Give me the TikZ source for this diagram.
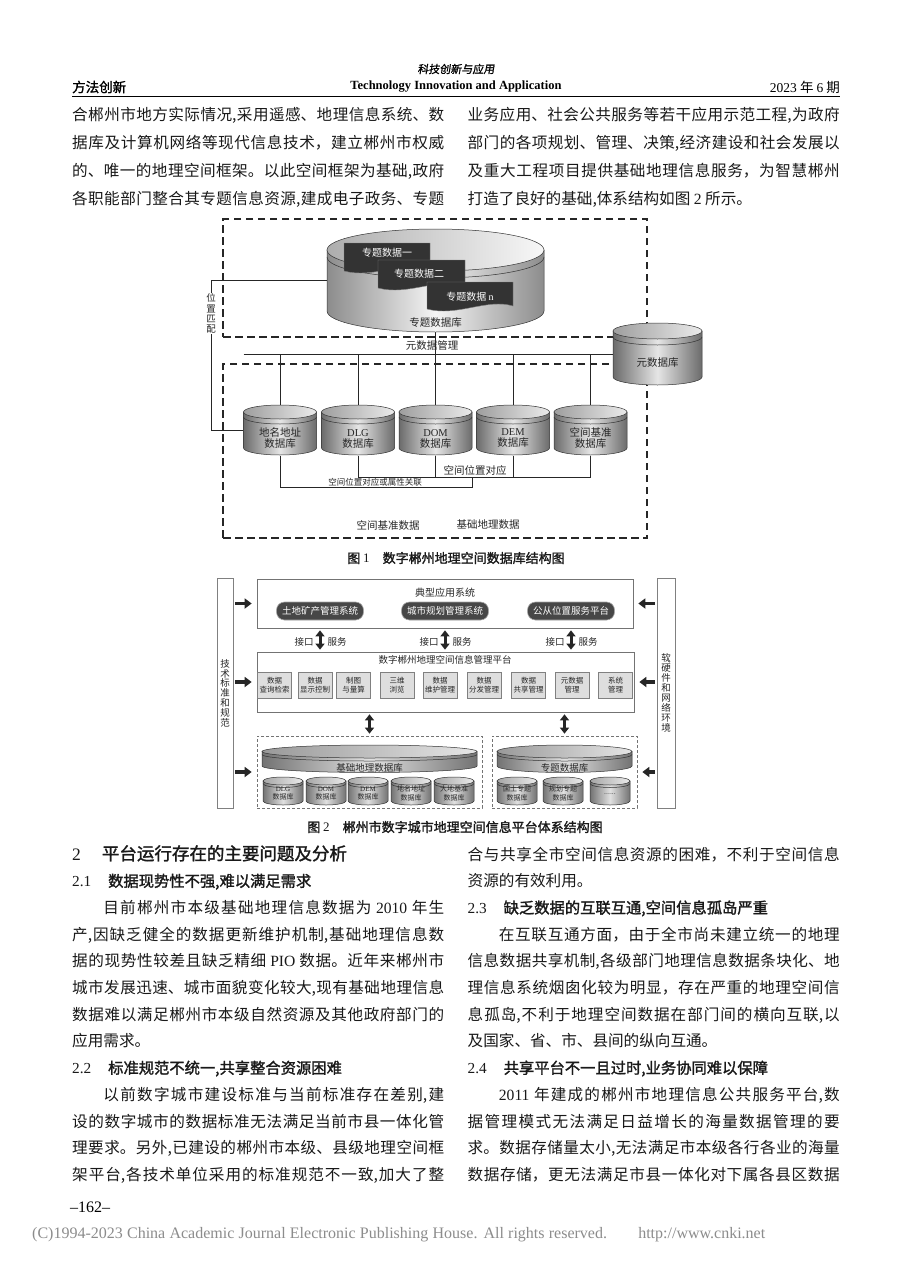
\documentclass[tikz,border=0pt]{standalone}
\usepackage{fontspec}
\setmainfont{Noto Sans CJK SC}
\newfontfamily\cjkb[FakeBold=1.6]{Noto Sans CJK SC}
\newfontfamily\cjkbs[FakeBold=1.2,FakeSlant=0.15]{Noto Sans CJK SC}
\newfontfamily\enf{Liberation Serif}
\usetikzlibrary{arrows.meta}
\XeTeXlinebreaklocale "zh"
\XeTeXlinebreakskip=0pt plus 2pt
\tolerance=9999
\hbadness=10000
\newcommand{\secA}{\cjkb\fontsize{17.5}{26.7}\selectfont}
\newcommand{\secB}{\cjkb\fontsize{15.3}{26.7}\selectfont}
\newcommand{\drumshape}[6]{%
 \shade[left color=dE, right color=dE, middle color=dM, draw=black!80, line width=0.5pt]
   ({#1-#4},#2) -- ({#1-#4},#3) arc[start angle=180, end angle=0, x radius=#4, y radius=#5] -- ({#1+#4},#2) -- cycle;
 \shade[left color=tL, right color=tR, draw=black!80, line width=0.5pt] (#1,#2) ellipse[x radius=#4, y radius=#5];
 \draw[black!80, line width=0.5pt] ({#1-#4},{#2+#6}) arc[start angle=180, end angle=0, x radius=#4, y radius=#5];
}
\newcommand{\docshape}[4]{%
 \filldraw[fill=black!80, draw=black!50, line width=0.4pt] (#1,#2) -- (#3,#2) -- (#3,{#4-4}) .. controls ({#3-0.3*(#3-#1)},{#4-12}) and ({#1+0.35*(#3-#1)},{#4+7}) .. (#1,{#4-1}) -- cycle;
}
\tikzset{
 body/.style={anchor=base west, inner sep=0pt, text width=372pt, align=justify, text=black!90},
 dashbox/.style={draw=black!85, line width=1.3pt, dash pattern=on 7.5pt off 4.5pt, inner sep=0pt},
 conn/.style={draw=black!85, line width=0.7pt},
 f1txt/.style={inner sep=0pt, font=\fontsize{10.5}{11}\selectfont, text=black!85, align=center},
 f1small/.style={inner sep=0pt, font=\fontsize{8.5}{9}\selectfont, text=black!85},
 darktxt/.style={inner sep=0pt, font=\fontsize{10}{11}\selectfont, text=white},
 ghost/.style={inner sep=0pt, outer sep=0pt, draw=none},
 caption/.style={inner sep=0pt, font=\cjkb\fontsize{13}{14}\selectfont, text=black!90},
 pbox/.style={draw=black!55, line width=0.7pt, inner sep=0pt},
 dbox2/.style={draw=black!55, line width=0.7pt, dash pattern=on 3pt off 2pt, inner sep=0pt},
 pill/.style={rounded corners=8pt, fill=black!72, draw=black!35, line width=0.6pt, text=white, minimum width=87pt, minimum height=18pt, inner sep=0pt, font=\fontsize{9.5}{10}\selectfont},
 fbox/.style={fill=black!13, draw=black!50, line width=0.5pt, minimum width=34pt, minimum height=26pt, inner sep=0pt, align=center, font=\fontsize{7.5}{9}\selectfont, text=black!85},
 f2txt/.style={inner sep=0pt, font=\fontsize{9.5}{10}\selectfont, text=black!85},
 f2s/.style={inner sep=0pt, align=center, font=\fontsize{7}{8.5}\selectfont, text=black!85},
 barrow/.style={line width=3.3pt, draw=black!85, -{Triangle[length=7pt,width=10pt]}, shorten <=2pt, shorten >=5pt},
 dblarrow/.style={line width=3pt, draw=black!85, {Triangle[length=6pt,width=9pt]}-{Triangle[length=6pt,width=9pt]}, shorten <=2pt, shorten >=2pt},
 vbar/.style={draw=black!50, line width=0.7pt, inner sep=0pt},
 vtext/.style={inner sep=0pt, align=center, font=\fontsize{9.5}{9.8}\selectfont, text=black!85},
}
\begin{document}
\begin{tikzpicture}[x=1pt,y=-1pt]
\fill[white] (0,0) rectangle (920,1271);
\useasboundingbox (0,0) rectangle (920,1271);

% ---------- header ----------
\node[inner sep=0pt, font=\cjkbs\fontsize{11}{12}\selectfont] (jname) at (456,69) {科技创新与应用};
\node[anchor=west, inner sep=0pt, font=\cjkb\fontsize{13.5}{14}\selectfont] (sect) at (72,87) {方法创新};
\node[inner sep=0pt, font=\enf\bfseries\fontsize{12.5}{14}\selectfont] (jen) at (456,87) {Technology Innovation and Application};
\node[anchor=east, inner sep=0pt, font=\fontsize{13.5}{14}\selectfont] (issue) at (840,87) {{\enf 2023} 年 {\enf 6} 期};
\draw[line width=1pt] (72,97) -- (840,97);

% ---------- top text ----------
\node[body, font=\fontsize{15.6}{27.7}\selectfont] (tl) at (72,121) {%
合郴州市地方实际情况,采用遥感、地理信息系统、数\linebreak%
据库及计算机网络等现代信息技术，建立郴州市权威\linebreak%
的、唯一的地理空间框架。以此空间框架为基础,政府\linebreak%
{\parfillskip=0pt 各职能部门整合其专题信息资源,建成电子政务、专题\par}};
\node[body, font=\fontsize{15.6}{27.7}\selectfont] (tr) at (467.5,121) {%
业务应用、社会公共服务等若干应用示范工程,为政府\linebreak%
部门的各项规划、管理、决策,经济建设和社会发展以\linebreak%
及重大工程项目提供基础地理信息服务，为智慧郴州\linebreak%
打造了良好的基础,体系结构如图 {\enf 2} 所示。\par};

% ---------- figure 1 ----------
\node[dashbox, minimum width=424pt, minimum height=118pt] (upbox) at (435,278) {};
\node[dashbox, minimum width=424pt, minimum height=174pt] (lowbox) at (435,451) {};

\node[ghost, minimum width=217pt, minimum height=103pt] (zt) at (435.5,280.5) {};
\node[ghost, minimum width=89pt, minimum height=62pt] (ysk) at (657.5,354) {};
\node[ghost, minimum width=73pt, minimum height=51pt] (dm) at (280,430.5) {};
\node[ghost, minimum width=73pt, minimum height=51pt] (dlg) at (358,430.5) {};
\node[ghost, minimum width=73pt, minimum height=51pt] (dom) at (435.5,430.5) {};
\node[ghost, minimum width=73pt, minimum height=51pt] (dem) at (513,430.5) {};
\node[ghost, minimum width=73pt, minimum height=51pt] (kj) at (590.5,430.5) {};

\coordinate (wzc) at (211,280.5);
\draw[conn] (zt.west) -- (wzc) |- (dm.west);
\draw[conn] (dm.west |- ysk.west) -- (ysk.west);
\foreach \n in {dm,dlg,dem,kj} \draw[conn] (\n.north |- ysk.west) -- (\n.north);
\draw[conn] (zt.south) -- (dom.north);
\draw[conn] (dlg.south) -- ++(0,21) -| (kj.south);
\draw[conn] (dom.south) -- ++(0,21);
\draw[conn] (dem.south) -- ++(0,21);
\coordinate (jn) at (472,477);
\draw[conn] (dm.south) -- ++(0,31) -| (jn);

\colorlet{dE}{black!45}\colorlet{dM}{black!4}\colorlet{tL}{black!32}\colorlet{tR}{black!3}
\drumshape{435.5}{250}{311}{108.5}{21}{7}
\colorlet{dE}{black!58}\colorlet{dM}{black!10}\colorlet{tL}{black!38}\colorlet{tR}{black!8}
\drumshape{657.5}{331}{377}{44.5}{8}{6}
\drumshape{280}{412}{448}{36.5}{7}{5}
\drumshape{358}{412}{448}{36.5}{7}{5}
\drumshape{435.5}{412}{448}{36.5}{7}{5}
\drumshape{513}{412}{448}{36.5}{7}{5}
\drumshape{590.5}{412}{448}{36.5}{7}{5}

\docshape{344}{243}{430}{272}
\docshape{378}{260}{465}{289}
\docshape{427}{282}{513}{310}
\node[darktxt] (d1) at (387,253) {专题数据一};
\node[darktxt] (d2) at (419,274) {专题数据二};
\node[darktxt] (d3) at (470,297) {专题数据 {\enf n}};

\node[f1txt] (ztl) at (435.5,323) {专题数据库};
\node[f1txt] (yskl) at (657.5,363) {元数据库};
\node[f1txt] (ysgl) at (432,346) {元数据管理};
\node[f1txt, fill=white, font=\fontsize{9.5}{10.3}\selectfont, inner ysep=1pt] (wzpp) at (211,313.5) {位\\置\\匹\\配};
\node[f1txt] (dml) at (280,438.5) {地名地址\\数据库};
\node[f1txt] (dlgl) at (358,438.5) {{\enf DLG}\\数据库};
\node[f1txt] (doml) at (435.5,438.5) {{\enf DOM}\\数据库};
\node[f1txt] (deml) at (513,438.5) {{\enf DEM}\\数据库};
\node[f1txt] (kjl) at (590.5,438.5) {空间基准\\数据库};
\node[f1txt] (kjdy) at (475,470) {空间位置对应};
\node[f1small] (kjsx) at (375,482) {空间位置对应或属性关联};
\node[f1txt] (kjjz) at (388,525) {空间基准数据};
\node[f1txt] (jcdl) at (488,525) {基础地理数据};
\node[caption] (cap1) at (456,558) {图 {\enf 1}\hspace{1em}数字郴州地理空间数据库结构图};

% ---------- figure 2 ----------
\node[vbar, minimum width=16pt, minimum height=230pt] (lbar) at (225,693) {};
\node[vbar, minimum width=18pt, minimum height=230pt] (rbar) at (666,693) {};
\node[vtext] (lbt) at (lbar) {技\\术\\标\\准\\和\\规\\范};
\node[vtext, font=\fontsize{9.5}{10}\selectfont] (rbt) at (rbar) {软\rlap{\hspace{-4pt}\raisebox{-1pt}{、}}\\硬\\件\\和\\网\\络\\环\\境};

\node[pbox, minimum width=376pt, minimum height=49pt] (app) at (445,603.5) {};
\node[f2txt, font=\fontsize{10}{11}\selectfont] (appt) at (445,593) {典型应用系统};
\node[pill] (p1) at (320,611) {土地矿产管理系统};
\node[pill] (p2) at (445,611) {城市规划管理系统};
\node[pill] (p3) at (571,611) {公从位置服务平台};

\node[pbox, minimum width=377pt, minimum height=60pt] (plat) at (445.5,682) {};
\node[f2txt] (platt) at (445,660) {数字郴州地理空间信息管理平台};
\node[fbox] (m1) at (274.5,685) {数据\\查询检索};
\node[fbox] (m2) at (315,685) {数据\\显示控制};
\node[fbox] (m3) at (353.5,685) {制图\\与量算};
\node[fbox] (m4) at (397,685) {三维\\浏览};
\node[fbox] (m5) at (440,685) {数据\\维护管理};
\node[fbox] (m6) at (484,685) {数据\\分发管理};
\node[fbox] (m7) at (528.5,685) {数据\\共享管理};
\node[fbox] (m8) at (572,685) {元数据\\管理};
\node[fbox] (m9) at (615.5,685) {系统\\管理};

\draw[dblarrow] (p1 |- app.south) -- (p1 |- plat.north);
\draw[dblarrow] (p2 |- app.south) -- (p2 |- plat.north);
\draw[dblarrow] (p3 |- app.south) -- (p3 |- plat.north);
\node[f2txt] (jk1) at (304,642) {接口};
\node[f2txt] (fw1) at (337,642) {服务};
\node[f2txt] (jk2) at (429,642) {接口};
\node[f2txt] (fw2) at (462,642) {服务};
\node[f2txt] (jk3) at (555,642) {接口};
\node[f2txt] (fw3) at (588,642) {服务};

\node[dbox2, minimum width=225pt, minimum height=72pt] (jc) at (369.5,772) {};
\node[dbox2, minimum width=145pt, minimum height=72pt] (zt2) at (564.5,772) {};
\draw[dblarrow] (plat.south -| jc.north) -- (jc.north);
\draw[dblarrow] (plat.south -| zt2.north) -- (zt2.north);

\draw[barrow] (lbar.east |- app.west) -- (app.west);
\draw[barrow] (lbar.east |- plat.west) -- (plat.west);
\draw[barrow] (lbar.east |- jc.west) -- (jc.west);
\draw[barrow] (rbar.west |- app.east) -- (app.east);
\draw[barrow] (rbar.west |- plat.east) -- (plat.east);
\draw[barrow] (rbar.west |- zt2.east) -- (zt2.east);

\colorlet{dE}{black!55}\colorlet{dM}{black!12}\colorlet{tL}{black!40}\colorlet{tR}{black!10}
\drumshape{369.5}{751.5}{766}{107.5}{6.5}{3}
\drumshape{564.5}{751.5}{766}{67.5}{6.5}{3}
\node[f2txt] (jcl) at (369.5,767.5) {基础地理数据库};
\node[f2txt] (ztl2) at (564.5,767.5) {专题数据库};
\colorlet{tL}{black!35}\colorlet{tR}{black!8}
\foreach \x in {283,326,368,411,454,517,563,610} {\drumshape{\x}{781}{801}{20}{4}{2.5}}
\node[f2s] (s1) at (283,793.5) {{\enf DLG}\\数据库};
\node[f2s] (s2) at (326,793.5) {{\enf DOM}\\数据库};
\node[f2s] (s3) at (368,793.5) {{\enf DEM}\\数据库};
\node[f2s] (s4) at (411,793.5) {地名地址\\数据库};
\node[f2s] (s5) at (454,793.5) {大地基准\\数据库};
\node[f2s] (s6) at (517,793.5) {国土专题\\数据库};
\node[f2s] (s7) at (563,793.5) {规划专题\\数据库};
\node[f2s] (s8) at (610,794) {......};
\node[caption] (cap2) at (455,827) {图 {\enf 2}\hspace{1em}郴州市数字城市地理空间信息平台体系结构图};

% ---------- bottom text ----------
\node[body, font=\fontsize{15.6}{26.7}\selectfont] (bl) at (72,860) {%
{\secA{\enf 2}\hspace{1.2em}平台运行存在的主要问题及分析\par}%
{\secB{\enf 2.1}\hspace{1.1em}数据现势性不强,难以满足需求\par}%
\hspace*{2em}目前郴州市本级基础地理信息数据为 {\enf 2010} 年生\linebreak%
产,因缺乏健全的数据更新维护机制,基础地理信息数\linebreak%
据的现势性较差且缺乏精细 {\enf PIO} 数据。近年来郴州市\linebreak%
城市发展迅速、城市面貌变化较大,现有基础地理信息\linebreak%
数据难以满足郴州市本级自然资源及其他政府部门的\linebreak%
应用需求。\par%
{\secB{\enf 2.2}\hspace{1.1em}标准规范不统一,共享整合资源困难\par}%
\hspace*{2em}以前数字城市建设标准与当前标准存在差别,建\linebreak%
设的数字城市的数据标准无法满足当前市县一体化管\linebreak%
理要求。另外,已建设的郴州市本级、县级地理空间框\linebreak%
{\parfillskip=0pt 架平台,各技术单位采用的标准规范不一致,加大了整\par}};

\node[body, font=\fontsize{15.6}{26.7}\selectfont] (br) at (467.5,860) {%
合与共享全市空间信息资源的困难，不利于空间信息\linebreak%
资源的有效利用。\par%
{\secB{\enf 2.3}\hspace{1.1em}缺乏数据的互联互通,空间信息孤岛严重\par}%
\hspace*{2em}在互联互通方面，由于全市尚未建立统一的地理\linebreak%
信息数据共享机制,各级部门地理信息数据条块化、地\linebreak%
理信息系统烟囱化较为明显，存在严重的地理空间信\linebreak%
息孤岛,不利于地理空间数据在部门间的横向互联,以\linebreak%
及国家、省、市、县间的纵向互通。\par%
{\secB{\enf 2.4}\hspace{1.1em}共享平台不一且过时,业务协同难以保障\par}%
\hspace*{2em}{\enf 2011} 年建成的郴州市地理信息公共服务平台,数\linebreak%
据管理模式无法满足日益增长的海量数据管理的要\linebreak%
求。数据存储量太小,无法满足市本级各行各业的海量\linebreak%
{\parfillskip=0pt 数据存储，更无法满足市县一体化对下属各县区数据\par}};

\node[anchor=west, inner sep=0pt, font=\enf\fontsize{16}{16}\selectfont] (pg) at (70,1207) {–162–};
\node[anchor=west, inner sep=0pt, text=black!45, font=\enf\fontsize{16}{17}\selectfont] (copy) at (32,1235) {\makebox[733pt][s]{(C)1994-2023 China Academic Journal Electronic Publishing House. All rights reserved. \hspace{1.2em} http://www.cnki.net}};
\end{tikzpicture}
\end{document}
